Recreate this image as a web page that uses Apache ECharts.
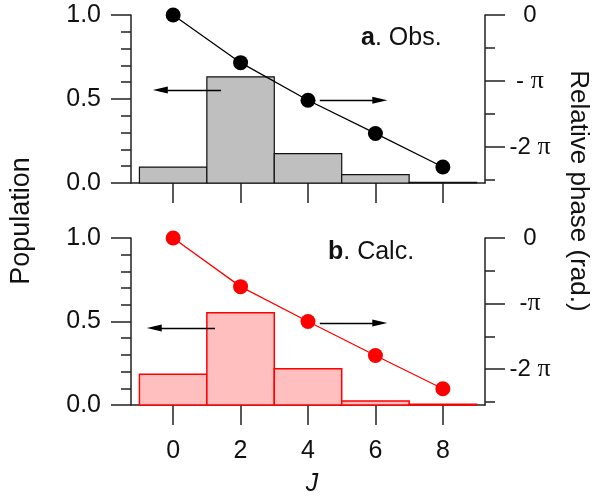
<!DOCTYPE html>
<html><head><meta charset="utf-8">
<script src="https://cdn.jsdelivr.net/npm/echarts@6/dist/echarts.min.js"></script>
<style>html,body{margin:0;padding:0;background:#fff}#c{width:592px;height:499px}</style>
</head><body><div id="c"></div>
<script>
// ---- data ----
const J = [0, 2, 4, 6, 8];
const popObs = [0.095, 0.632, 0.175, 0.05, 0.004];
const phaseObs = [0, -2.27, -4.06, -5.64, -7.24];
const popCalc = [0.184, 0.553, 0.217, 0.024, 0.004];
const phaseCalc = [0, -2.33, -4.0, -5.63, -7.22];
const binWidth = 2;
const xTicks = [0, 2, 4, 6, 8];
const phaseMajor = [0, -Math.PI, -2 * Math.PI];
const phaseMinor = [-Math.PI / 2, -3 * Math.PI / 2, -5 * Math.PI / 2];
const phaseLabelsObs = ['0', '- {p|π}', '-2 {p|π}'];
const phaseLabelsCalc = ['0', '-{p|π}', '-2 {p|π}'];
// arrows: [x from, x to (base of head), y]
const arrowPopObs = [1.42, -0.38, 0.553];
const arrowPhaseObs = [4.35, 6.13, -4.06];
const arrowPopCalc = [1.24, -0.56, 0.461];
const arrowPhaseCalc = [4.35, 6.13, -4.07];

const FONT = 'Liberation Sans, Arial, Helvetica, sans-serif';
const AX = '#222';

const chart = echarts.init(document.getElementById('c'), null, {renderer: 'canvas'});

function barRender(fill, stroke, lw) {
  return function (params, api) {
    const x = api.value(0), y = api.value(1);
    const p0 = api.coord([x - binWidth / 2, y]);
    const p1 = api.coord([x + binWidth / 2, 0]);
    return {type: 'rect', shape: {x: p0[0], y: p0[1], width: p1[0] - p0[0], height: p1[1] - p0[1]},
      style: {fill: fill, stroke: stroke, lineWidth: lw}};
  };
}
function arrowLine(a) {
  return {silent: true, symbol: ['none', 'triangle'], symbolSize: [7, 15],
    lineStyle: {color: '#000', width: 1.3, type: 'solid'}, label: {show: false},
    itemStyle: {color: '#000'},
    animation: false,
    data: [[{coord: [a[0], a[2]]}, {coord: [a[1], a[2]]}]]};
}
function xAxisDef(gi, labels) {
  return {type: 'value', gridIndex: gi, min: -1.25, max: 9.25,
    axisLine: {show: true, onZero: false, lineStyle: {color: AX, width: 1.5}},
    axisTick: {show: true, customValues: xTicks, length: 20, lineStyle: {color: AX, width: 1.5}},
    axisLabel: {show: labels, customValues: xTicks, margin: 34, fontSize: 25, color: '#111', fontFamily: FONT},
    splitLine: {show: false}};
}
function popAxis(gi) {
  return {type: 'value', gridIndex: gi, position: 'left', min: 0, max: 1, interval: 0.5,
    axisLine: {show: true, onZero: false, lineStyle: {color: AX, width: 1.5}},
    axisTick: {show: true, length: 20, lineStyle: {color: AX, width: 1.5}},
    minorTick: {show: true, splitNumber: 5, length: 10, lineStyle: {color: AX, width: 1.5}},
    axisLabel: {margin: 30, fontSize: 25, color: '#111', fontFamily: FONT, formatter: v => v.toFixed(1)},
    splitLine: {show: false}, minorSplitLine: {show: false}};
}
function phaseAxis(gi, labels) {
  return {type: 'value', gridIndex: gi, position: 'right', min: -8, max: 0,
    axisLine: {show: true, onZero: false, lineStyle: {color: AX, width: 1.5}},
    axisTick: {show: true, customValues: phaseMajor, length: 20, lineStyle: {color: AX, width: 1.5}},
    axisLabel: {customValues: phaseMajor, margin: 45, align: 'center', fontSize: 24, color: '#111', fontFamily: FONT,
      formatter: v => { let k = 0, d = 1e9; phaseMajor.forEach((m, i) => { if (Math.abs(m - v) < d) { d = Math.abs(m - v); k = i; } }); return labels[k]; },
      rich: {p: {fontFamily: 'Liberation Serif, Times New Roman, serif', fontSize: 26, color: '#111'}}},
    splitLine: {show: false}};
}
function phaseMinorAxis(gi) {
  return {type: 'value', gridIndex: gi, position: 'right', min: -8, max: 0,
    axisLine: {show: false, onZero: false},
    axisTick: {show: true, customValues: phaseMinor, length: 10, lineStyle: {color: AX, width: 1.5}},
    axisLabel: {show: false}, splitLine: {show: false}};
}

const option = {
  animation: false,
  backgroundColor: '#fff',
  grid: [
    {left: 131, right: 107, top: 15, height: 168},
    {left: 131, right: 107, top: 238, height: 167}
  ],
  xAxis: [xAxisDef(0, false), xAxisDef(1, true)],
  yAxis: [popAxis(0), phaseAxis(0, phaseLabelsObs), phaseMinorAxis(0),
          popAxis(1), phaseAxis(1, phaseLabelsCalc), phaseMinorAxis(1)],
  series: [
    {type: 'custom', xAxisIndex: 0, yAxisIndex: 0, renderItem: barRender('#bfbfbf', '#111', 1.2),
      data: J.map((j, i) => [j, popObs[i]]), encode: {x: 0, y: 1}, z: 1},
    {type: 'line', xAxisIndex: 0, yAxisIndex: 1, data: J.map((j, i) => [j, phaseObs[i]]),
      symbol: 'circle', symbolSize: 15, itemStyle: {color: '#000'}, lineStyle: {color: '#000', width: 1.3}, z: 3},
    {type: 'line', xAxisIndex: 0, yAxisIndex: 0, data: [], markLine: arrowLine(arrowPopObs)},
    {type: 'line', xAxisIndex: 0, yAxisIndex: 1, data: [], markLine: arrowLine(arrowPhaseObs)},
    {type: 'custom', xAxisIndex: 1, yAxisIndex: 3, renderItem: barRender('#ffbfbf', '#ff0000', 1.5),
      data: J.map((j, i) => [j, popCalc[i]]), encode: {x: 0, y: 1}, z: 1},
    {type: 'line', xAxisIndex: 1, yAxisIndex: 4, data: J.map((j, i) => [j, phaseCalc[i]]),
      symbol: 'circle', symbolSize: 15, itemStyle: {color: '#ff0000'}, lineStyle: {color: '#ff0000', width: 1.3}, z: 3},
    {type: 'line', xAxisIndex: 1, yAxisIndex: 3, data: [], markLine: arrowLine(arrowPopCalc)},
    {type: 'line', xAxisIndex: 1, yAxisIndex: 4, data: [], markLine: arrowLine(arrowPhaseCalc)}
  ],
  graphic: [
    {type: 'text', x: 361, y: 38, style: {text: '{b|a}. Obs.', fontSize: 25, fontFamily: FONT, fill: '#111',
      verticalAlign: 'middle', align: 'left', rich: {b: {fontWeight: 'bold', fontSize: 25, fontFamily: FONT}}}},
    {type: 'text', x: 328, y: 252, style: {text: '{b|b}. Calc.', fontSize: 25, fontFamily: FONT, fill: '#111',
      verticalAlign: 'middle', align: 'left', rich: {b: {fontWeight: 'bold', fontSize: 25, fontFamily: FONT}}}},
    {type: 'text', x: 22, y: 221, rotation: Math.PI / 2, style: {text: 'Population', fontSize: 27, fontFamily: FONT,
      fill: '#111', align: 'center', verticalAlign: 'middle'}},
    {type: 'text', x: 578, y: 191, rotation: -Math.PI / 2, style: {text: 'Relative phase (rad.)', fontSize: 26, fontFamily: FONT,
      fill: '#111', align: 'center', verticalAlign: 'middle'}},
    {type: 'text', x: 312, y: 484, style: {text: 'J', fontSize: 25, fontStyle: 'italic', fontFamily: FONT,
      fill: '#111', align: 'center', verticalAlign: 'middle'}}
  ]
};
chart.setOption(option);
</script></body></html>
